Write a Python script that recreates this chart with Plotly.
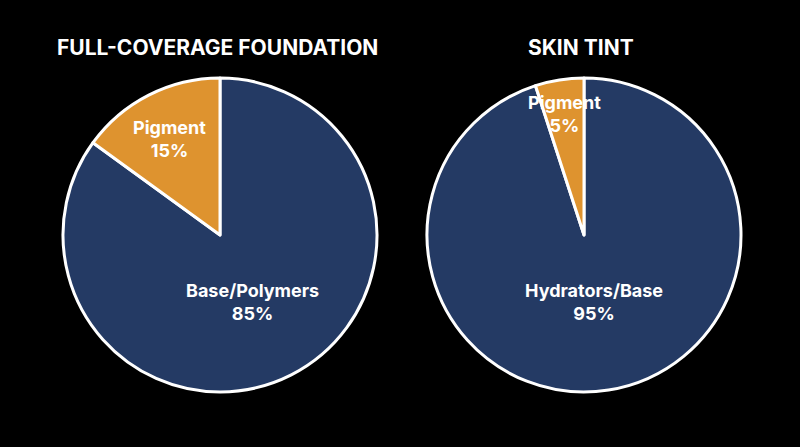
import math
import plotly.graph_objects as go

titles = ["FULL-COVERAGE FOUNDATION", "SKIN TINT"]
labels_left = ["Pigment", "Base/Polymers"]
values_left = [15, 85]
labels_right = ["Pigment", "Hydrators/Base"]
values_right = [5, 95]

NAVY = "#243a64"
ORANGE = "#de932f"
FONT = "Inter"

W, H = 800, 447
# pie domains in pixels (x0, x1, top, bottom)
boxes = [(63, 377, 78, 392), (427, 741, 78, 392)]
# label radius as fraction of pie radius, per slice
label_r = [[0.71, 0.46], [0.80, 0.41]]

fig = go.Figure()
annotations = []

for i, (labels, values) in enumerate([(labels_left, values_left),
                                      (labels_right, values_right)]):
    x0, x1, top, bot = boxes[i]
    # drawn clockwise from 12 o'clock in reverse order -> pigment sits left of top
    fig.add_trace(go.Pie(
        labels=labels[::-1],
        values=values[::-1],
        sort=False,
        direction="clockwise",
        rotation=0,
        textinfo="none",
        hoverinfo="label+percent",
        marker=dict(colors=[NAVY, ORANGE], line=dict(color="white", width=3)),
        domain=dict(x=[x0 / W, x1 / W], y=[(H - bot) / H, (H - top) / H]),
        showlegend=False,
    ))

    cx, cy = (x0 + x1) / 2, (top + bot) / 2
    r = (x1 - x0) / 2
    total = sum(values)
    start = 0.0
    for j, (lab, v) in enumerate(zip(labels, values)):
        frac = v / total
        mid = (start + frac / 2) * 2 * math.pi  # counterclockwise from top
        start += frac
        px = cx - math.sin(mid) * r * label_r[i][j]
        py = cy - math.cos(mid) * r * label_r[i][j] + 3
        annotations.append(dict(
            x=px / W, y=(H - py) / H, xref="paper", yref="paper",
            xanchor="center", yanchor="middle",
            text=f"<b>{lab}<br>{v}%</b>", showarrow=False,
            font=dict(family=FONT, size=18, color="white"),
            align="center",
        ))

    annotations.append(dict(
        x=(cx - 3) / W, y=(H - 47) / H, xref="paper", yref="paper",
        text=f"<b>{titles[i]}</b>", showarrow=False,
        font=dict(family=FONT, size=21, color="white"),
        xanchor="center", yanchor="middle",
    ))

fig.update_layout(
    width=W, height=H,
    paper_bgcolor="black", plot_bgcolor="black",
    margin=dict(l=0, r=0, t=0, b=0),
    annotations=annotations,
)

fig.write_html(
    "out.html",
    config={"displayModeBar": False},
    post_script="document.body.style.margin='0';document.body.style.background='black';",
)
